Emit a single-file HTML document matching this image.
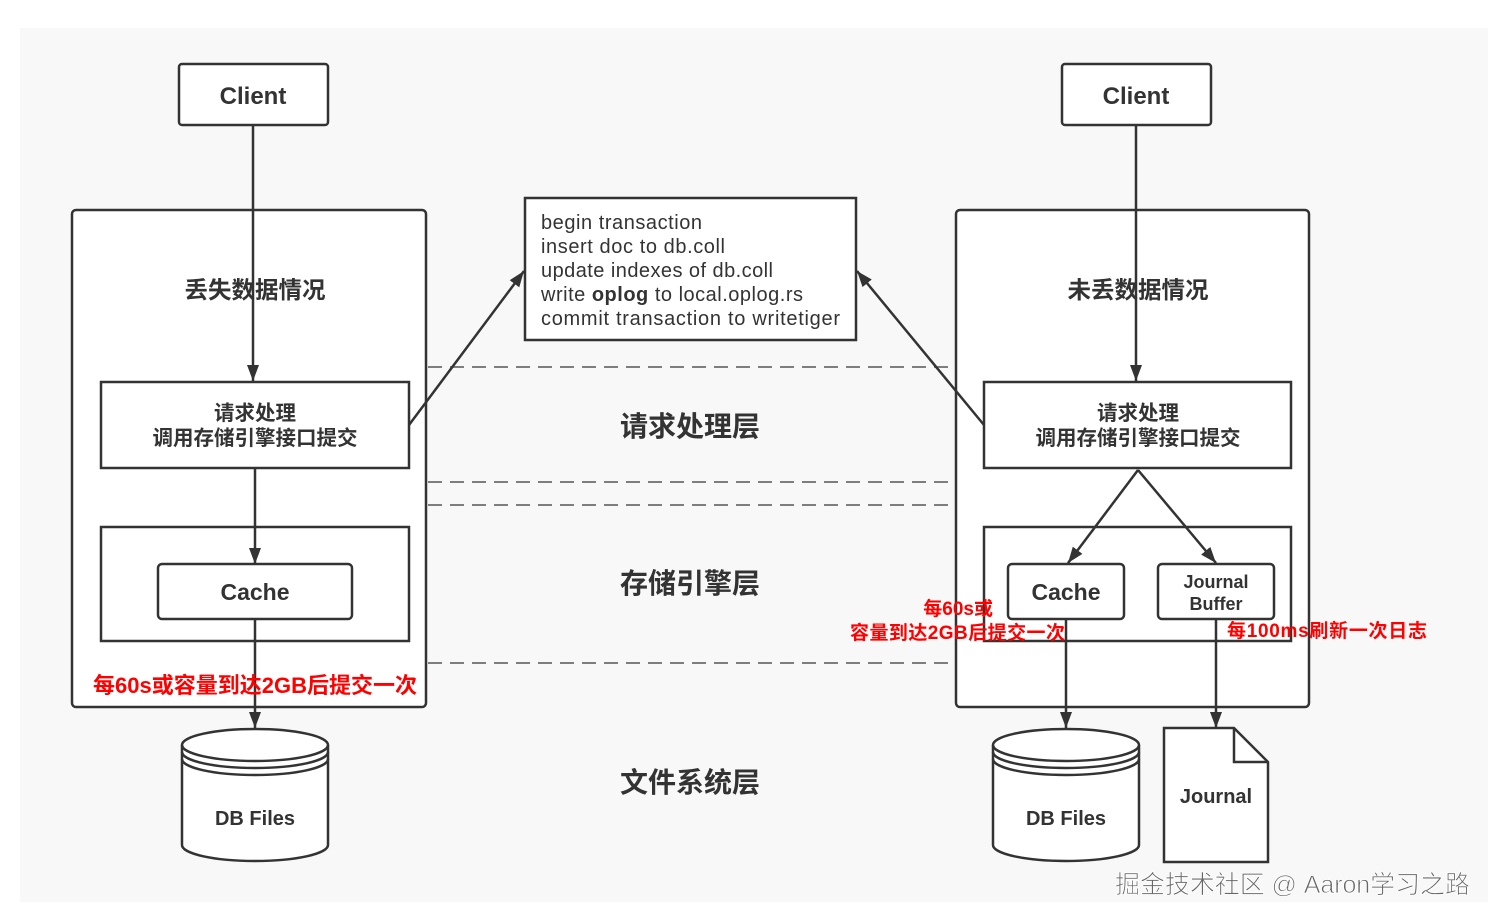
<!DOCTYPE html>
<html><head><meta charset="utf-8"><style>
html,body{margin:0;padding:0;background:#fff;}
svg{display:block;}
text{font-family:"Liberation Sans","Noto Sans CJK SC",sans-serif;fill:#333;}
</style></head><body>
<svg width="1496" height="924" viewBox="0 0 1496 924" xmlns="http://www.w3.org/2000/svg">
<defs>
<marker id="a2" viewBox="0 0 16 16" refX="16" refY="8" markerWidth="16" markerHeight="16" orient="auto" markerUnits="userSpaceOnUse">
<path d="M0,2 L16,8 L0,14 Z" fill="#333"/></marker>
</defs>
<rect x="20" y="28" width="1468" height="874" fill="#f8f8f8"/>
<g stroke="#333" stroke-width="2.5" fill="#fff">
<rect x="179" y="64" width="149" height="61" rx="3"/>
<rect x="1062" y="64" width="149" height="61" rx="3"/>
<rect x="72" y="210" width="354" height="497" rx="4"/>
<rect x="956" y="210" width="353" height="497" rx="4"/>
<rect x="101" y="382" width="308" height="86"/>
<rect x="984" y="382" width="307" height="86"/>
<rect x="101" y="527" width="308" height="114"/>
<rect x="984" y="527" width="307" height="114"/>
<rect x="158" y="564" width="194" height="55" rx="4"/>
<rect x="1008" y="564" width="116" height="55" rx="4"/>
<rect x="1158" y="564" width="116" height="55" rx="4"/>
<rect x="525" y="198" width="331" height="142"/>
</g>
<g stroke="#555" stroke-width="1.5" stroke-dasharray="14,8">
<line x1="428" y1="367" x2="956" y2="367"/>
<line x1="428" y1="482" x2="956" y2="482"/>
<line x1="428" y1="505" x2="956" y2="505"/>
<line x1="428" y1="663" x2="956" y2="663"/>
</g>
<g stroke="#333" stroke-width="2.5" fill="#fff">
<path d="M182,745 L182,845 A73,16 0 0 0 328,845 L328,745 A73,16 0 0 0 182,745 Z"/>
<path d="M182,745 A73,16 0 0 0 328,745" fill="none"/>
<path d="M182,752 A73,16 0 0 0 328,752" fill="none"/>
<path d="M182,759 A73,16 0 0 0 328,759" fill="none"/>
<path d="M993,745 L993,845 A73,16 0 0 0 1139,845 L1139,745 A73,16 0 0 0 993,745 Z"/>
<path d="M993,745 A73,16 0 0 0 1139,745" fill="none"/>
<path d="M993,752 A73,16 0 0 0 1139,752" fill="none"/>
<path d="M993,759 A73,16 0 0 0 1139,759" fill="none"/>
<path d="M1164,728 L1234,728 L1268,762 L1268,862 L1164,862 Z"/>
<path d="M1234,728 L1234,762 L1268,762" fill="none"/>
</g>
<g stroke="#333" stroke-width="2.5" fill="none" marker-end="url(#a2)">
<line x1="253" y1="125" x2="253" y2="381"/>
<line x1="255" y1="468" x2="255" y2="564"/>
<line x1="255" y1="619" x2="255" y2="728"/>
<line x1="1136" y1="125" x2="1136" y2="381"/>
<line x1="1138" y1="470" x2="1068" y2="563"/>
<line x1="1138" y1="470" x2="1216" y2="563"/>
<line x1="1066" y1="619" x2="1066" y2="728"/>
<line x1="1216" y1="619" x2="1216" y2="728"/>
<line x1="409" y1="425" x2="524" y2="271"/>
<line x1="984" y1="425" x2="857" y2="271"/>
</g>
<g font-weight="bold" text-anchor="middle">
<text x="253" y="104" font-size="24">Client</text>
<text x="1136" y="104" font-size="24">Client</text>
<text x="255" y="298" font-size="23.5">丢失数据情况</text>
<text x="1138" y="298" font-size="23.5">未丢数据情况</text>
<text x="255" y="420" font-size="20.5">请求处理</text>
<text x="255" y="445" font-size="20.5">调用存储引擎接口提交</text>
<text x="1138" y="420" font-size="20.5">请求处理</text>
<text x="1138" y="445" font-size="20.5">调用存储引擎接口提交</text>
<text x="255" y="600" font-size="23">Cache</text>
<text x="1066" y="600" font-size="23">Cache</text>
<text x="1216" y="588" font-size="18">Journal</text>
<text x="1216" y="610" font-size="18">Buffer</text>
<text x="255" y="825" font-size="20">DB Files</text>
<text x="1066" y="825" font-size="20">DB Files</text>
<text x="1216" y="803" font-size="20">Journal</text>
<text x="690" y="436" font-size="28">请求处理层</text>
<text x="690" y="593" font-size="28">存储引擎层</text>
<text x="690" y="792" font-size="28">文件系统层</text>
</g>
<g font-size="20">
<text x="541" y="229" textLength="161">begin transaction</text>
<text x="541" y="253" textLength="184">insert doc to db.coll</text>
<text x="541" y="277" textLength="232">update indexes of db.coll</text>
<text x="541" y="301" textLength="262">write <tspan font-weight="bold">oplog</tspan> to local.oplog.rs</text>
<text x="541" y="325" textLength="299">commit transaction to writetiger</text>
</g>
<g font-weight="bold">
<text x="255" y="693" font-size="22" text-anchor="middle" style="fill:#f00">每60s或容量到达2GB后提交一次</text>
<text x="993" y="615" font-size="19" text-anchor="end" style="fill:#f00">每60s或</text>
<text x="1065" y="639" font-size="19" text-anchor="end" textLength="215" style="fill:#f00">容量到达2GB后提交一次</text>
<text x="1227" y="637" font-size="19" textLength="200" style="fill:#f00">每100ms刷新一次日志</text>
</g>
<text x="1470" y="893" font-size="25" text-anchor="end" textLength="355" style="fill:#666;stroke:#fff;stroke-width:0.8">掘金技术社区 @ Aaron学习之路</text>
</svg>
</body></html>
